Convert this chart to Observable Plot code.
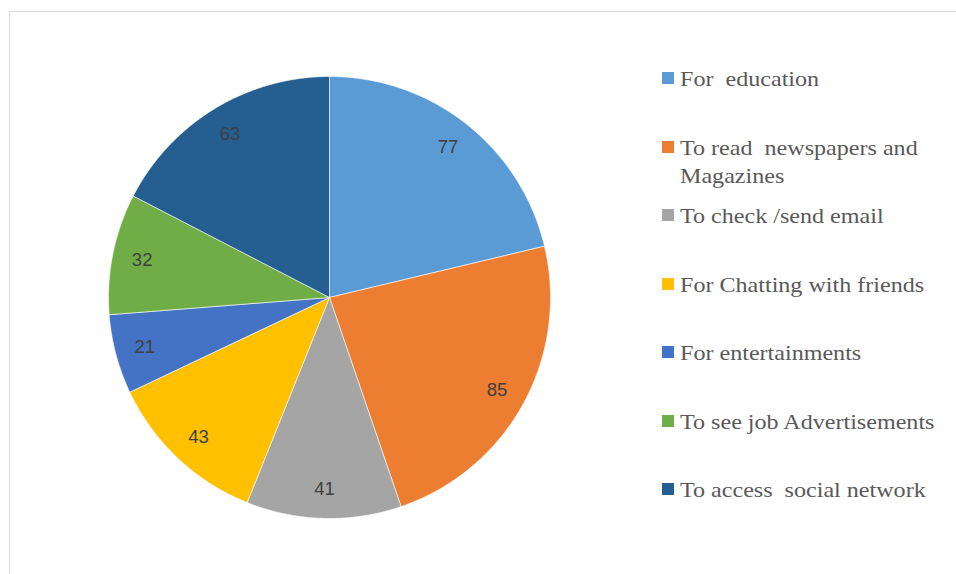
<!DOCTYPE html>
<html>
<head>
<meta charset="utf-8">
<script src="https://cdn.jsdelivr.net/npm/d3@7"></script>
<script src="https://cdn.jsdelivr.net/npm/@observablehq/plot@0.6"></script>
<style>
  html, body { margin: 0; padding: 0; background: #fff; }
  #wrap { position: relative; width: 956px; height: 574px; overflow: hidden; }
  #frame { position: absolute; left: 9px; top: 11px; width: 960px; height: 580px; border: 1px solid #d9d9d9; box-sizing: border-box; }
  #legend { position: absolute; left: 662px; top: 65px; font-family: "Liberation Serif", "Times New Roman", serif; font-size: 21.5px; line-height: 28px; color: #595959; }
  .item { position: absolute; left: 0; white-space: pre; }
  .sw { position: absolute; left: 0; top: 7px; width: 12px; height: 12px; }
  .lbl { position: absolute; left: 18px; top: 0; transform: scaleX(1.12); transform-origin: 0 0; }
  #chart { position: absolute; left: 0; top: 0; }
</style>
</head>
<body>
<div id="wrap">
  <div id="frame"></div>
  <div id="chart"></div>
  <div id="legend"></div>
</div>
<script>
const categories = [
  "For  education",
  "To read  newspapers and\nMagazines",
  "To check /send email",
  "For Chatting with friends",
  "For entertainments",
  "To see job Advertisements",
  "To access  social network"
];
const values = [77, 85, 41, 43, 21, 32, 63];
const colors = ["#5b9bd5", "#ed7d31", "#a5a5a5", "#ffc000", "#4472c4", "#70ad47", "#255e91"];

const pie = d3.pie().sort(null).value(d => d.value)(categories.map((name, i) => ({name, value: values[i]})));

// slice outlines sampled along the arc (unit circle, y up)
const poly = [];
pie.forEach(s => {
  const name = s.data.name;
  poly.push({name, x: 0, y: 0});
  const n = Math.max(2, Math.ceil((s.endAngle - s.startAngle) / (Math.PI / 360)));
  for (let k = 0; k <= n; k++) {
    const a = s.startAngle + (s.endAngle - s.startAngle) * k / n;
    poly.push({name, x: Math.sin(a), y: Math.cos(a)});
  }
  poly.push({name, x: 0, y: 0});
});

const labelR = 0.865;
const labels = pie.map(s => {
  const a = (s.startAngle + s.endAngle) / 2;
  return {x: labelR * Math.sin(a), y: labelR * Math.cos(a), text: String(s.data.value)};
});

const chart = Plot.plot({
  width: 956,
  height: 574,
  margin: 0,
  x: {domain: [-1, 1], range: [108, 550], axis: null},
  y: {domain: [-1, 1], range: [518, 76], axis: null},
  color: {domain: categories, range: colors},
  marks: [
    Plot.line(poly, {x: "x", y: "y", z: "name", fill: "name", stroke: "#ffffff", strokeWidth: 1, strokeOpacity: 0.6, curve: "linear-closed"}),
    Plot.text(labels, {x: "x", y: "y", text: "text", fill: "#404040", fontSize: 18.5, fontFamily: "Liberation Sans, Arial, sans-serif"})
  ],
  style: {background: "transparent"}
});
document.getElementById("chart").appendChild(chart);

const legend = document.getElementById("legend");
categories.forEach((c, i) => {
  const item = document.createElement("div");
  item.className = "item";
  item.style.top = (i * 68.5) + "px";
  const sw = document.createElement("div");
  sw.className = "sw";
  sw.style.background = colors[i];
  const lb = document.createElement("div");
  lb.className = "lbl";
  lb.textContent = c;
  item.appendChild(sw);
  item.appendChild(lb);
  legend.appendChild(item);
});
</script>
</body>
</html>
